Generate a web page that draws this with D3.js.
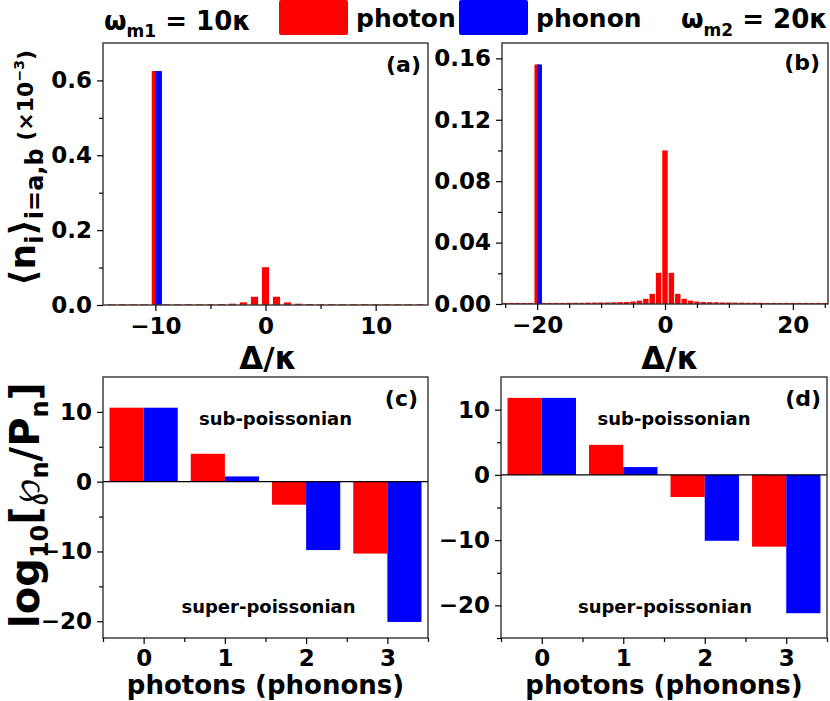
<!DOCTYPE html>
<html>
<head>
<meta charset="utf-8">
<script src="https://cdn.jsdelivr.net/npm/d3@7"></script>
<style>
  body { margin: 0; background: #fff; }
  text { font-family: "DejaVu Sans", sans-serif; font-weight: bold; fill: #000; }
</style>
</head>
<body>
<svg width="830" height="701"></svg>
<script>
// detuning grid and mean occupations (x 10^-3) for panel (a), omega_m1 = 10 kappa
const detA = [-14,-13,-12,-11,-10,-9,-8,-7,-6,-5,-4,-3,-2,-1,0,1,2,3,4,5,6,7,8,9,10,11,12,13,14];
const photonA = [0.002,0.002,0.002,0.002,0.625,0.002,0.002,0.002,0.002,0.002,0.0025,0.0035,0.007,0.022,0.101,0.022,0.007,0.0035,0.0025,0.002,0.002,0.002,0.002,0.002,0.002,0.002,0.002,0.002,0.002];
const phononDetA = [-10];
const phononA = [0.625];

// panel (b), omega_m2 = 20 kappa
const detB = [-25,-24,-23,-22,-21,-20,-19,-18,-17,-16,-15,-14,-13,-12,-11,-10,-9,-8,-7,-6,-5,-4,-3,-2,-1,0,
              1,2,3,4,5,6,7,8,9,10,11,12,13,14,15,16,17,18,19,20,21,22,23,24,25];
const photonB = [0.0007,0.0007,0.0007,0.0007,0.0007,0.156,0.0007,0.0007,0.0007,0.0007,0.0008,0.0008,0.0008,0.0009,0.0009,0.001,0.001,0.0011,0.0012,0.0013,0.0016,0.0022,0.0034,0.0066,0.0203,0.1,
                 0.0203,0.0066,0.0034,0.0022,0.0016,0.0013,0.0012,0.0011,0.001,0.001,0.0009,0.0009,0.0008,0.0008,0.0008,0.0007,0.0007,0.0007,0.0007,0.0007,0.0007,0.0007,0.0007,0.0007,0.0007];
const phononDetB = [-20];
const phononB = [0.156];

// log10 ratio vs photon (phonon) number
const nums = [0, 1, 2, 3];
const photonC = [10.6, 4.0, -3.3, -10.3];
const phononC = [10.6, 0.75, -9.8, -20.1];
const photonD = [11.8, 4.6, -3.4, -11.0];
const phononD = [11.8, 1.2, -10.1, -21.2];

const RED = '#ff0000', BLUE = '#0000ff';
const svg = d3.select('svg');

function frame(b) {
  svg.append('rect')
    .attr('x', b.x0).attr('y', b.y0)
    .attr('width', b.x1 - b.x0).attr('height', b.y1 - b.y0)
    .attr('fill', 'none').attr('stroke', '#333').attr('stroke-width', 1.4);
}

function axes(b, x, y, o) {
  const gx = svg.append('g').attr('transform', `translate(0,${b.y1})`);
  gx.call(d3.axisBottom(x).tickValues(o.xMinor).tickSize(4).tickFormat(''));
  gx.append('g').call(d3.axisBottom(x).tickValues(o.xMajor).tickSize(6)
      .tickPadding(o.xPad).tickFormat(o.xFmt || d3.format('')));
  const gy = svg.append('g').attr('transform', `translate(${b.x0},0)`);
  gy.call(d3.axisLeft(y).tickValues(o.yMinor).tickSize(4).tickFormat(''));
  gy.append('g').call(d3.axisLeft(y).tickValues(o.yMajor).tickSize(6)
      .tickPadding(5).tickFormat(o.yFmt));
  svg.selectAll('.domain').remove();
  [gx, gy].forEach(g => {
    g.selectAll('line').attr('stroke', '#000').attr('stroke-width', 1.2);
    g.selectAll('text').attr('font-size', 23).attr('font-family', '"DejaVu Sans", sans-serif')
      .attr('font-weight', 'bold').attr('fill', '#000');
  });
}

function spectrum(b, dom, ymax, det, ph, phDet, phn, wR, wB, o) {
  const x = d3.scaleLinear().domain(dom).range([b.x0, b.x1]);
  const y = d3.scaleLinear().domain([0, ymax]).range([b.y1, b.y0]);
  const g = svg.append('g');
  g.selectAll('rect.ph').data(det).enter().append('rect')
    .attr('x', (d) => x(d - wR / 2))
    .attr('width', x(wR) - x(0))
    .attr('y', (d, i) => y(ph[i]))
    .attr('height', (d, i) => y(0) - y(ph[i]))
    .attr('fill', RED);
  g.selectAll('rect.pn').data(phDet).enter().append('rect')
    .attr('x', d => x(d))
    .attr('width', x(wB) - x(0))
    .attr('y', (d, i) => y(phn[i]))
    .attr('height', (d, i) => y(0) - y(phn[i]))
    .attr('fill', BLUE);
  frame(b);
  axes(b, x, y, o);
}

function ratio(b, ph, pn, ydom, o) {
  const x = d3.scaleLinear().domain([-0.5, 3.5]).range([b.x0, b.x1]);
  const y = d3.scaleLinear().domain(ydom).range([b.y1, b.y0]);
  const w = 0.42;
  const g = svg.append('g');
  g.selectAll('rect.ph').data(nums).enter().append('rect')
    .attr('x', d => x(d - w)).attr('width', x(w) - x(0))
    .attr('y', (d, i) => y(Math.max(0, ph[i])))
    .attr('height', (d, i) => Math.abs(y(ph[i]) - y(0)))
    .attr('fill', RED);
  g.selectAll('rect.pn').data(nums).enter().append('rect')
    .attr('x', d => x(d)).attr('width', x(w) - x(0))
    .attr('y', (d, i) => y(Math.max(0, pn[i])))
    .attr('height', (d, i) => Math.abs(y(pn[i]) - y(0)))
    .attr('fill', BLUE);
  svg.append('line')
    .attr('x1', b.x0).attr('x2', b.x1).attr('y1', y(0)).attr('y2', y(0))
    .attr('stroke', '#000').attr('stroke-width', 1.2);
  frame(b);
  axes(b, x, y, Object.assign({
    xMajor: nums, xMinor: [-0.5, 0.5, 1.5, 2.5, 3.5], xPad: 6,
    yFmt: d3.format('')
  }, o));
  svg.append('text').attr('x', (b.x0 + b.x1) / 2 + o.subDx).attr('y', 425)
    .attr('text-anchor', 'middle').attr('font-size', 18).text('sub-poissonian');
  svg.append('text').attr('x', (b.x0 + b.x1) / 2 + o.supDx).attr('y', 613)
    .attr('text-anchor', 'middle').attr('font-size', 18).text('super-poissonian');
  svg.append('text').attr('x', (b.x0 + b.x1) / 2).attr('y', 694)
    .attr('text-anchor', 'middle').attr('font-size', 26).text('photons (phonons)');
}

const bA = {x0: 103, x1: 428, y0: 43, y1: 305};
const bB = {x0: 502, x1: 828, y0: 43, y1: 304};
const bC = {x0: 103, x1: 428, y0: 377, y1: 638};
const bD = {x0: 501, x1: 827, y0: 377, y1: 638};

spectrum(bA, [-14.75, 14.75], 0.7, detA, photonA, phononDetA, phononA, 0.65, 0.6, {
  xMajor: [-10, 0, 10], xMinor: [-5, 5], xPad: 7,
  yMajor: [0, 0.2, 0.4, 0.6], yMinor: [0.1, 0.3, 0.5], yFmt: d3.format('.1f')
});
spectrum(bB, [-25.5, 25.5], 0.17, detB, photonB, phononDetB, phononB, 0.85, 0.75, {
  xMajor: [-20, 0, 20], xMinor: [-25, -15, -10, -5, 5, 10, 15, 25], xPad: 7,
  yMajor: [0, 0.04, 0.08, 0.12, 0.16], yMinor: [0.02, 0.06, 0.1, 0.14], yFmt: d3.format('.2f')
});
ratio(bC, photonC, phononC, [-22.4, 15], {
  yMajor: [-20, -10, 0, 10], yMinor: [-15, -5, 5], subDx: 10, supDx: 3
});
ratio(bD, photonD, phononD, [-25, 15], {
  yMajor: [-20, -10, 0, 10], yMinor: [-25, -15, -5, 5], subDx: 10, supDx: 1
});

// panel tags
[['(a)', 421, 72], ['(b)', 820, 70], ['(c)', 418, 406], ['(d)', 821, 406]].forEach(t => {
  svg.append('text').attr('x', t[1]).attr('y', t[2]).attr('text-anchor', 'end')
    .attr('font-size', 22).text(t[0]);
});

// x titles for the spectra
[268, 670].forEach(cx => {
  svg.append('text').attr('x', cx).attr('y', 369).attr('text-anchor', 'middle')
    .attr('font-size', 31).text('Δ/κ');
});

// y titles
const yt = svg.append('text').attr('transform', 'translate(35,168) rotate(-90)')
  .attr('text-anchor', 'middle').attr('font-size', 36);
yt.append('tspan').text('⟨n');
yt.append('tspan').attr('font-size', 24).attr('dy', 8).text('i');
yt.append('tspan').attr('dy', -8).text('⟩');
yt.append('tspan').attr('font-size', 24).attr('dy', 8).text('i=a,b');
yt.append('tspan').attr('font-size', 22).attr('dy', -10).text(' (×10');
yt.append('tspan').attr('font-size', 14).attr('dy', -9).text('−3');
yt.append('tspan').attr('font-size', 22).attr('dy', 9).text(')');

const yb = svg.append('text').attr('transform', 'translate(39,505) rotate(-90)')
  .attr('text-anchor', 'middle').attr('font-size', 40);
yb.append('tspan').text('log');
yb.append('tspan').attr('font-size', 24).attr('dy', 9).text('10');
yb.append('tspan').attr('dy', -9).text('[');
yb.append('tspan').attr('font-weight', 'normal').text('℘');
yb.append('tspan').attr('font-size', 24).attr('dy', 9).text('n');
yb.append('tspan').attr('dy', -9).text('/P');
yb.append('tspan').attr('font-size', 24).attr('dy', 9).text('n');
yb.append('tspan').attr('dy', -9).text(']');

// header: frequencies and legend
const h1 = svg.append('text').attr('x', 104).attr('y', 30).attr('font-size', 26);
h1.append('tspan').text('ω');
h1.append('tspan').attr('font-size', 17).attr('dy', 7).text('m1');
h1.append('tspan').attr('dy', -7).text(' = 10κ');
const h2 = svg.append('text').attr('x', 681).attr('y', 28).attr('font-size', 26);
h2.append('tspan').text('ω');
h2.append('tspan').attr('font-size', 17).attr('dy', 8).text('m2');
h2.append('tspan').attr('dy', -8).text(' = 20κ');

const legend = [['photon', RED, 279], ['phonon', BLUE, 459]];
legend.forEach(l => {
  svg.append('rect').attr('x', l[2]).attr('y', 0).attr('width', 69).attr('height', 35)
    .attr('rx', 2).attr('fill', l[1]);
  svg.append('text').attr('x', l[2] + 77).attr('y', 27).attr('font-size', 25).text(l[0]);
});
</script>
</body>
</html>
